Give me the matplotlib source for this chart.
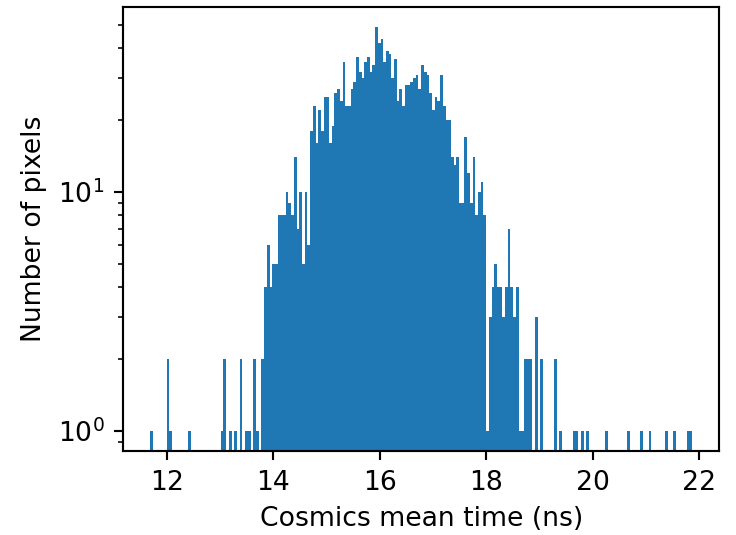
import numpy as np
import matplotlib
matplotlib.use("Agg")
import matplotlib.pyplot as plt

# Histogram range and number of bins
x_min = 11.687
x_max = 21.869
n_bins = 200

# Counts per bin (left to right)
counts = [
    1, 0, 0, 0, 0, 0, 2, 1, 0, 0,       # 0-9
    0, 0, 0, 0, 1, 0, 0, 0, 0, 0,       # 10-19
    0, 0, 0, 0, 0, 0, 1, 2, 0, 1,       # 20-29
    0, 1, 0, 2, 0, 1, 1, 0, 2, 1,       # 30-39
    0, 2, 4, 6, 4, 5, 5, 8, 8, 8,       # 40-49
    10, 9, 8, 14, 7, 10, 5, 10, 6, 18,  # 50-59
    23, 16, 22, 18, 25, 25, 16, 19, 26, 27,  # 60-69
    24, 35, 23, 23, 27, 29, 37, 32, 30, 35,  # 70-79
    37, 32, 34, 49, 42, 44, 35, 39, 38, 30,  # 80-89
    36, 24, 27, 23, 28, 28, 29, 30, 31, 27,  # 90-99
    34, 32, 31, 26, 22, 25, 24, 31, 23, 20,  # 100-109
    20, 14, 13, 14, 9, 9, 17, 12, 9, 14,     # 110-119
    8, 10, 11, 8, 1, 3, 4, 5, 4, 4,          # 120-129
    3, 4, 7, 4, 3, 4, 1, 1, 2, 2,            # 130-139
    2, 0, 3, 0, 2, 0, 0, 0, 0, 2,            # 140-149
    0, 1, 0, 0, 0, 0, 1, 1, 0, 1,            # 150-159
    0, 1, 0, 0, 0, 0, 0, 0, 1, 0,            # 160-169
    0, 0, 0, 0, 0, 0, 1, 0, 0, 0,            # 170-179
    0, 1, 0, 0, 1, 0, 0, 0, 0, 0,            # 180-189
    1, 0, 0, 1, 0, 0, 0, 0, 1, 1,            # 190-199
]

x_label = "Cosmics mean time (ns)"
y_label = "Number of pixels"

edges = np.linspace(x_min, x_max, n_bins + 1)
centers = 0.5 * (edges[:-1] + edges[1:])

fig = plt.figure(figsize=(736 / 192, 535 / 192), dpi=192)
ax = fig.add_axes([0.1675, 0.157, 0.9769 - 0.1675, 0.9864 - 0.157])
ax.hist(centers, bins=edges, weights=counts, log=True, color="#1f77b4")
ax.set_ylim(0.823, 59.5)
ax.set_xticks([12, 14, 16, 18, 20, 22])
ax.set_xlabel(x_label)
ax.set_ylabel(y_label)

fig.savefig("out.png", dpi=192)
